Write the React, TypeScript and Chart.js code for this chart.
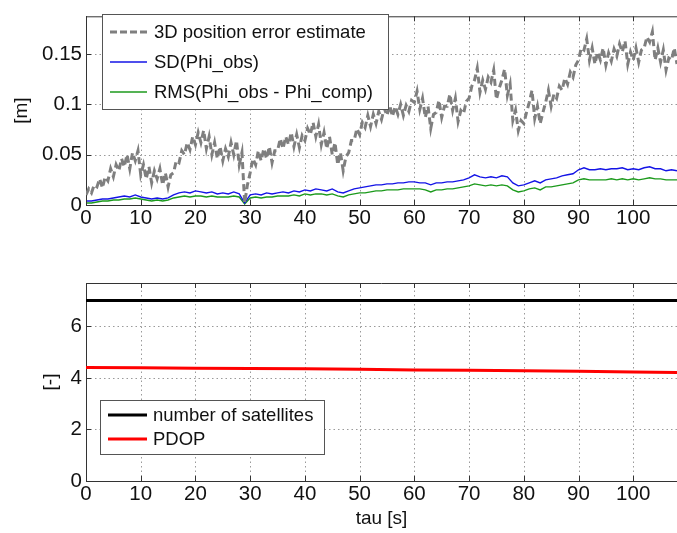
import React, { useEffect, useRef } from "react";
import { Chart, registerables } from "chart.js";

Chart.register(...registerables);

// ---------------- data ----------------
const TAU_STEP = 0.5; // s between samples of the position error estimate
const SD_STEP = 1; // s between samples of SD / RMS
const X_MAX = 108;
const X_TICKS = [0, 10, 20, 30, 40, 50, 60, 70, 80, 90, 100];

const POS_ERR = [
  0.010, 0.016, 0.012, 0.020, 0.018, 0.026, 0.017, 0.028, 0.024, 0.036,
  0.028, 0.040, 0.034, 0.046, 0.038, 0.050, 0.036, 0.052, 0.044, 0.054,
  0.030, 0.040, 0.026, 0.038, 0.022, 0.034, 0.026, 0.036, 0.020, 0.032,
  0.018, 0.030, 0.032, 0.044, 0.042, 0.054, 0.050, 0.062, 0.055, 0.068,
  0.060, 0.072, 0.062, 0.074, 0.056, 0.068, 0.050, 0.062, 0.046, 0.058,
  0.044, 0.056, 0.048, 0.062, 0.050, 0.064, 0.040, 0.052, 0.002, 0.020,
  0.032, 0.046, 0.040, 0.054, 0.044, 0.056, 0.046, 0.058, 0.042, 0.054,
  0.054, 0.066, 0.056, 0.068, 0.060, 0.072, 0.058, 0.070, 0.057, 0.069,
  0.064, 0.076, 0.070, 0.082, 0.068, 0.080, 0.060, 0.072, 0.056, 0.068,
  0.050, 0.062, 0.040, 0.052, 0.034, 0.048, 0.052, 0.064, 0.064, 0.076,
  0.070, 0.082, 0.077, 0.089, 0.078, 0.090, 0.081, 0.093, 0.085, 0.096,
  0.089, 0.099, 0.088, 0.098, 0.090, 0.100, 0.089, 0.099, 0.093, 0.104,
  0.102, 0.113, 0.095, 0.106, 0.087, 0.098, 0.076, 0.090, 0.092, 0.104,
  0.087, 0.098, 0.098, 0.110, 0.094, 0.106, 0.083, 0.094, 0.091, 0.103,
  0.106, 0.118, 0.124, 0.136, 0.112, 0.124, 0.115, 0.127, 0.122, 0.134,
  0.105, 0.116, 0.124, 0.135, 0.109, 0.120, 0.084, 0.094, 0.074, 0.084,
  0.081, 0.092, 0.102, 0.114, 0.086, 0.098, 0.081, 0.092, 0.102, 0.114,
  0.098, 0.110, 0.106, 0.118, 0.114, 0.126, 0.120, 0.132, 0.127, 0.139,
  0.144, 0.156, 0.154, 0.165, 0.144, 0.156, 0.140, 0.152, 0.144, 0.156,
  0.139, 0.151, 0.143, 0.155, 0.148, 0.160, 0.152, 0.163, 0.140, 0.152,
  0.144, 0.156, 0.142, 0.154, 0.156, 0.167, 0.162, 0.172, 0.144, 0.156,
  0.142, 0.154, 0.134, 0.146, 0.144, 0.156, 0.140,
];

const SD_OBS = [
  0.004, 0.004, 0.005, 0.006, 0.006, 0.007, 0.008, 0.009, 0.008, 0.010,
  0.008, 0.007, 0.006, 0.007, 0.006, 0.007, 0.010, 0.012, 0.013, 0.012,
  0.014, 0.013, 0.012, 0.013, 0.011, 0.012, 0.011, 0.013, 0.011, 0.002,
  0.010, 0.011, 0.010, 0.012, 0.011, 0.012, 0.013, 0.012, 0.014, 0.013,
  0.015, 0.014, 0.016, 0.015, 0.014, 0.016, 0.013, 0.012, 0.014, 0.016,
  0.017, 0.018, 0.019, 0.020, 0.020, 0.021, 0.021, 0.022, 0.022, 0.023,
  0.023, 0.022, 0.022, 0.020, 0.022, 0.022, 0.023, 0.023, 0.024, 0.025,
  0.027, 0.030, 0.028, 0.027, 0.028, 0.027, 0.029, 0.028, 0.022, 0.019,
  0.020, 0.022, 0.024, 0.022, 0.025, 0.026, 0.027, 0.029, 0.030, 0.031,
  0.035, 0.037, 0.035, 0.035, 0.036, 0.035, 0.036, 0.036, 0.037, 0.035,
  0.036, 0.035, 0.037, 0.038, 0.036, 0.036, 0.034, 0.035, 0.034,
];

const RMS_DIFF = [
  0.002, 0.002, 0.003, 0.004, 0.004, 0.005, 0.005, 0.006, 0.006, 0.007,
  0.006, 0.005, 0.004, 0.005, 0.004, 0.005, 0.007, 0.008, 0.009, 0.008,
  0.009, 0.009, 0.008, 0.009, 0.008, 0.008, 0.008, 0.009, 0.008, 0.001,
  0.007, 0.008, 0.007, 0.008, 0.008, 0.009, 0.009, 0.009, 0.010, 0.009,
  0.011, 0.010, 0.011, 0.011, 0.010, 0.011, 0.009, 0.008, 0.010, 0.011,
  0.012, 0.012, 0.013, 0.014, 0.014, 0.015, 0.015, 0.015, 0.016, 0.016,
  0.016, 0.016, 0.015, 0.013, 0.015, 0.015, 0.016, 0.016, 0.017, 0.018,
  0.019, 0.021, 0.020, 0.019, 0.020, 0.019, 0.020, 0.019, 0.015, 0.013,
  0.014, 0.016, 0.017, 0.015, 0.018, 0.018, 0.019, 0.020, 0.021, 0.022,
  0.025, 0.026, 0.025, 0.025, 0.025, 0.025, 0.026, 0.025, 0.026, 0.025,
  0.026, 0.025, 0.026, 0.027, 0.026, 0.026, 0.025, 0.025, 0.025,
];

const TOP_Y_MAX = 0.1875;
const TOP_Y_TICKS = [0, 0.05, 0.1, 0.15];

const SAT_TAU = [0, 108];
const NUM_SATS = [7, 7];
const PDOP_TAU = [0, 10, 20, 30, 40, 50, 60, 70, 80, 90, 100, 108];
const PDOP = [4.40, 4.39, 4.37, 4.36, 4.35, 4.33, 4.31, 4.30, 4.28, 4.26, 4.23, 4.21];
const BOTTOM_Y_MAX = 7.68;
const BOTTOM_Y_TICKS = [0, 2, 4, 6];

const TOP_LABELS = ["3D position error estimate", "SD(Phi_obs)", "RMS(Phi_obs - Phi_comp)"];
const BOTTOM_LABELS = ["number of satellites", "PDOP"];

// ---------------- styling ----------------
const FONT = "'Liberation Sans', Arial, Helvetica, sans-serif";
const AXIS_COLOR = "#333";
const GRID_COLOR = "#9a9a9a";
const GRAY = "#7f7f7f";
const BLUE = "#1414e6";
const GREEN = "#1c9a1c";

type Row = { label: string; color: string; width: number; dash: number[] };
type LegendCfg = { box: [number, number, number, number]; rows: Row[]; rowY: number[]; lineX: [number, number]; textX: number };

const framePlugin = (legend: LegendCfg) => ({
  id: "frame",
  beforeDatasetsDraw(chart: any) {
    // dotted grid (MATLAB style)
    const { ctx, chartArea: a, scales } = chart;
    ctx.save();
    ctx.strokeStyle = GRID_COLOR;
    ctx.lineWidth = 1;
    ctx.setLineDash([1.5, 3]);
    ctx.beginPath();
    scales.x.ticks.forEach((t: any) => {
      if (t.value === 0) return;
      const px = Math.round(scales.x.getPixelForValue(t.value)) + 0.5;
      ctx.moveTo(px, a.bottom);
      ctx.lineTo(px, a.top);
    });
    scales.y.ticks.forEach((t: any) => {
      if (t.value === 0) return;
      const py = Math.round(scales.y.getPixelForValue(t.value)) + 0.5;
      ctx.moveTo(a.left, py);
      ctx.lineTo(a.right, py);
    });
    ctx.stroke();
    ctx.restore();
  },
  afterDraw(chart: any) {
    const { ctx, chartArea: a, scales } = chart;
    ctx.save();
    ctx.strokeStyle = AXIS_COLOR;
    ctx.lineWidth = 1;
    ctx.setLineDash([]);
    ctx.beginPath();
    ctx.moveTo(a.left, a.top + 0.5);
    ctx.lineTo(a.right, a.top + 0.5);
    scales.x.ticks.forEach((t: any) => {
      const px = Math.round(scales.x.getPixelForValue(t.value)) + 0.5;
      ctx.moveTo(px, a.bottom);
      ctx.lineTo(px, a.bottom - 5);
      ctx.moveTo(px, a.top);
      ctx.lineTo(px, a.top + 5);
    });
    scales.y.ticks.forEach((t: any) => {
      const py = Math.round(scales.y.getPixelForValue(t.value)) + 0.5;
      ctx.moveTo(a.left, py);
      ctx.lineTo(a.left + 5, py);
    });
    ctx.stroke();

    // legend
    const [x, y, w, h] = legend.box;
    ctx.fillStyle = "#fff";
    ctx.fillRect(x, y, w, h);
    ctx.strokeStyle = "#555";
    ctx.strokeRect(x + 0.5, y + 0.5, w, h);
    ctx.font = `18.5px ${FONT}`;
    ctx.textBaseline = "middle";
    ctx.textAlign = "left";
    legend.rows.forEach((r, i) => {
      const ry = legend.rowY[i];
      ctx.beginPath();
      ctx.strokeStyle = r.color;
      ctx.lineWidth = r.width;
      ctx.setLineDash(r.dash);
      ctx.moveTo(legend.lineX[0], ry);
      ctx.lineTo(legend.lineX[1], ry);
      ctx.stroke();
      ctx.setLineDash([]);
      ctx.fillStyle = "#111";
      ctx.fillText(r.label, legend.textX, ry + 1);
    });
    ctx.restore();
  },
});

const xScale = (showTitle: boolean) => ({
  type: "linear" as const,
  min: 0,
  max: X_MAX,
  afterBuildTicks: (s: any) => {
    s.ticks = X_TICKS.map((v) => ({ value: v }));
  },
  afterFit: (s: any) => {
    s.height = showTitle ? 52 : 45;
  },
  ticks: {
    autoSkip: false,
    maxRotation: 0,
    padding: 1,
    color: "#111",
    font: { size: 20.5, family: FONT },
    callback: (v: any) => String(v),
  },
  grid: { display: false, drawTicks: false },
  border: { display: true, color: AXIS_COLOR, width: 1 },
  title: {
    display: showTitle,
    text: "tau [s]",
    color: "#111",
    font: { size: 19, family: FONT },
    padding: { top: 0, bottom: 3 },
  },
});

const yScale = (max: number, ticks: number[], title: string, titlePad: number) => ({
  type: "linear" as const,
  min: 0,
  max,
  afterBuildTicks: (s: any) => {
    s.ticks = ticks.map((v) => ({ value: v }));
  },
  afterFit: (s: any) => {
    s.width = 86;
  },
  ticks: {
    autoSkip: false,
    padding: 4,
    color: "#111",
    font: { size: 20.5, family: FONT },
    callback: (v: any) => String(v),
  },
  grid: { display: false, drawTicks: false },
  border: { display: true, color: AXIS_COLOR, width: 1 },
  title: {
    display: true,
    text: title,
    color: "#111",
    font: { size: 19, family: FONT },
    padding: { top: titlePad, bottom: 0 },
  },
});

const xy = (ys: number[], step: number) => ys.map((y, i) => ({ x: i * step, y }));
const pairs = (xs: number[], ys: number[]) => xs.map((x, i) => ({ x, y: ys[i] }));

export default function App() {
  const topRef = useRef<HTMLCanvasElement>(null);
  const botRef = useRef<HTMLCanvasElement>(null);

  useEffect(() => {
    const common = {
      animation: false as const,
      responsive: false,
      events: [] as any[],
      plugins: { legend: { display: false }, tooltip: { enabled: false } },
    };

    const top = new Chart(topRef.current!, {
      type: "line",
      data: {
        datasets: [
          { label: TOP_LABELS[0], data: xy(POS_ERR, TAU_STEP), borderColor: GRAY, borderWidth: 3, borderDash: [7, 4], pointRadius: 0, tension: 0 },
          { label: TOP_LABELS[1], data: xy(SD_OBS, SD_STEP), borderColor: BLUE, borderWidth: 1.4, pointRadius: 0, tension: 0 },
          { label: TOP_LABELS[2], data: xy(RMS_DIFF, SD_STEP), borderColor: GREEN, borderWidth: 1.4, pointRadius: 0, tension: 0 },
        ],
      },
      options: {
        ...common,
        layout: { padding: { top: 8, left: 0, right: 0, bottom: 0 } },
        scales: { x: xScale(false), y: yScale(TOP_Y_MAX, TOP_Y_TICKS, "[m]", 10) },
      } as any,
      plugins: [
        framePlugin({
          box: [102, 14, 286, 95],
          rows: [
            { label: TOP_LABELS[0], color: GRAY, width: 3, dash: [7, 3] },
            { label: TOP_LABELS[1], color: BLUE, width: 1.5, dash: [] },
            { label: TOP_LABELS[2], color: GREEN, width: 1.5, dash: [] },
          ],
          rowY: [32, 62, 92],
          lineX: [110, 147],
          textX: 154,
        }),
      ],
    });

    const bot = new Chart(botRef.current!, {
      type: "line",
      data: {
        datasets: [
          { label: BOTTOM_LABELS[0], data: pairs(SAT_TAU, NUM_SATS), borderColor: "#000", borderWidth: 3, pointRadius: 0, tension: 0 },
          { label: BOTTOM_LABELS[1], data: pairs(PDOP_TAU, PDOP), borderColor: "#f00", borderWidth: 3, pointRadius: 0, tension: 0 },
        ],
      },
      options: {
        ...common,
        layout: { padding: { top: 33, left: 0, right: 0, bottom: 0 } },
        scales: { x: xScale(true), y: yScale(BOTTOM_Y_MAX, BOTTOM_Y_TICKS, "[-]", 39) },
      } as any,
      plugins: [
        framePlugin({
          box: [100, 150, 224, 54],
          rows: [
            { label: BOTTOM_LABELS[0], color: "#000", width: 3, dash: [] },
            { label: BOTTOM_LABELS[1], color: "#f00", width: 3, dash: [] },
          ],
          rowY: [165, 189],
          lineX: [108, 147],
          textX: 153,
        }),
      ],
    });

    return () => {
      top.destroy();
      bot.destroy();
    };
  }, []);

  return (
    <div style={{ position: "absolute", left: 0, top: 0, width: 677, height: 533, background: "#fff" }}>
      <canvas ref={topRef} width={677} height={250} style={{ position: "absolute", left: 0, top: 0, width: 677, height: 250 }} />
      <canvas ref={botRef} width={677} height={283} style={{ position: "absolute", left: 0, top: 250, width: 677, height: 283 }} />
    </div>
  );
}
